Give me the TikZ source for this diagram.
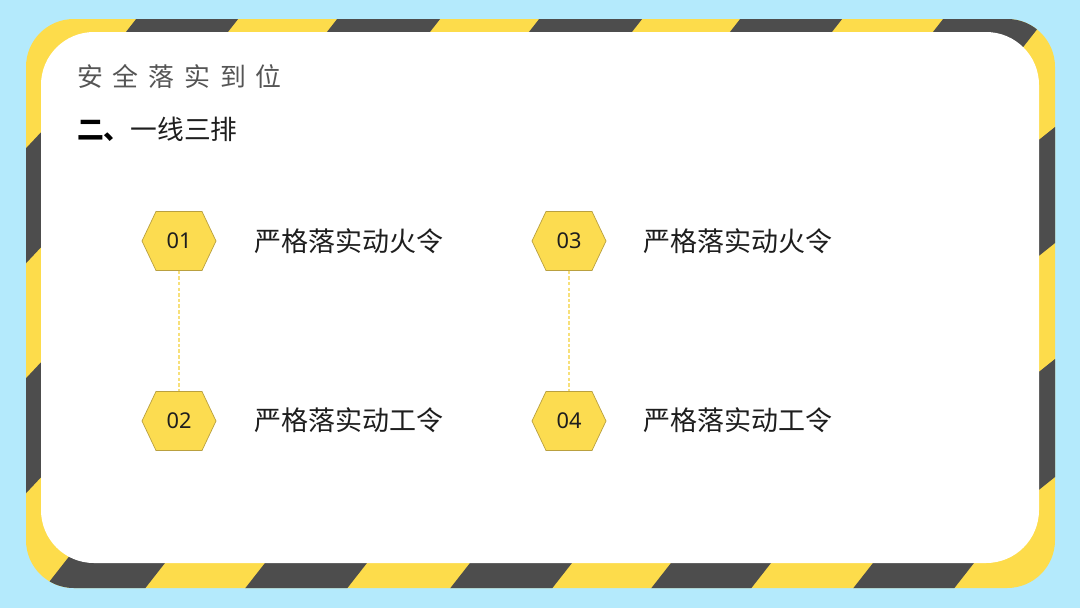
\documentclass[tikz,border=0pt]{standalone}
\usepackage{fontspec}
\newfontfamily\cjk{Noto Sans CJK SC}
\newfontfamily\numfont{Noto Sans}
\definecolor{bgblue}{HTML}{B4EAFC}
\definecolor{stripeyellow}{HTML}{FDDC4B}
\definecolor{stripedark}{HTML}{4D4D4D}
\definecolor{hexfill}{HTML}{FCDC50}
\definecolor{hexline}{HTML}{B9A040}
\definecolor{dashyellow}{HTML}{F7E07A}
\definecolor{titlegray}{HTML}{555555}
\definecolor{textdark}{HTML}{1E1E1E}
\newcommand\hexagonat[1]{%
  \filldraw[hexshape] (#1) +(-37,0) -- +(-23,-29.5) -- +(23,-29.5) -- +(37,0) -- +(23,29.5) -- +(-23,29.5) -- cycle;}
\begin{document}
\begin{tikzpicture}[x=0.025cm,y=-0.025cm,
  hexshape/.style={fill=hexfill,draw=hexline,line width=0.5pt},
  numtext/.style={inner sep=0pt,minimum width=52.4pt,minimum height=41.8pt,font=\numfont\fontsize{15.5}{18}\selectfont,text=textdark},
  lbl/.style={anchor=west,inner sep=0pt,font=\cjk\fontsize{19.2}{22}\selectfont,text=textdark},
  conn/.style={draw=dashyellow,line width=1pt,dash pattern=on 2.5pt off 1.5pt}]
\useasboundingbox (0,0) rectangle (1080,608);
\fill[bgblue] (0,0) rectangle (1080,608);
\begin{scope}
  \clip[rounded corners=34pt] (26,19) rectangle (1055,588);
  \fill[stripeyellow] (0,0) rectangle (1080,608);
  % top band
  \foreach \s/\e in {126/228,327/430,529/632,730/832,933/1035}
    \fill[stripedark] (\s-22,60) -- (\s+25,0) -- (\e+25,0) -- (\e-22,60) -- cycle;
  % bottom band
  \foreach \s/\e in {64/165,265/367,470/572,671/771,873/974}
    \fill[stripedark] (\s+18,540) -- (\s-29,600) -- (\e-29,600) -- (\e+18,540) -- cycle;
  % left band
  \foreach \s/\e in {132/247,362/477}
    \fill[stripedark] (0,\s+44) -- (60,\s-20) -- (60,\e-20) -- (0,\e+44) -- cycle;
  % right band
  \foreach \s/\e in {140/256,372/490}
    \fill[stripedark] (1020,\s+15) -- (1080,\s-33) -- (1080,\e-33) -- (1020,\e+15) -- cycle;
\end{scope}
\fill[white,rounded corners=37.6pt] (41,32) rectangle (1039,563);
% titles
\node[anchor=west,inner sep=0pt,font=\cjk\fontsize{18.4}{21}\selectfont,text=titlegray] (title) at (77,77)
  {安\hspace{7pt}全\hspace{7pt}落\hspace{7pt}实\hspace{7pt}到\hspace{7pt}位};
\node[anchor=west,inner sep=0pt,font=\cjk\fontsize{19}{22}\selectfont,text=textdark] (sub) at (77,129)
  {{\bfseries\color{black}二、}一线三排};
% hexagons
\coordinate (c1) at (179,241);
\coordinate (c2) at (179,421);
\coordinate (c3) at (569,241);
\coordinate (c4) at (569,421);
\hexagonat{c1}\hexagonat{c2}\hexagonat{c3}\hexagonat{c4}
\node[numtext] (h1) at (c1) {01};
\node[numtext] (h2) at (c2) {02};
\node[numtext] (h3) at (c3) {03};
\node[numtext] (h4) at (c4) {04};
\draw[conn] (h1.south) -- (h2.north);
\draw[conn] (h3.south) -- (h4.north);
% labels
\node[lbl] (t1) at (254,241) {严格落实动火令};
\node[lbl] (t2) at (254,420) {严格落实动工令};
\node[lbl] (t3) at (643,241) {严格落实动火令};
\node[lbl] (t4) at (643,420) {严格落实动工令};
\end{tikzpicture}
\end{document}
